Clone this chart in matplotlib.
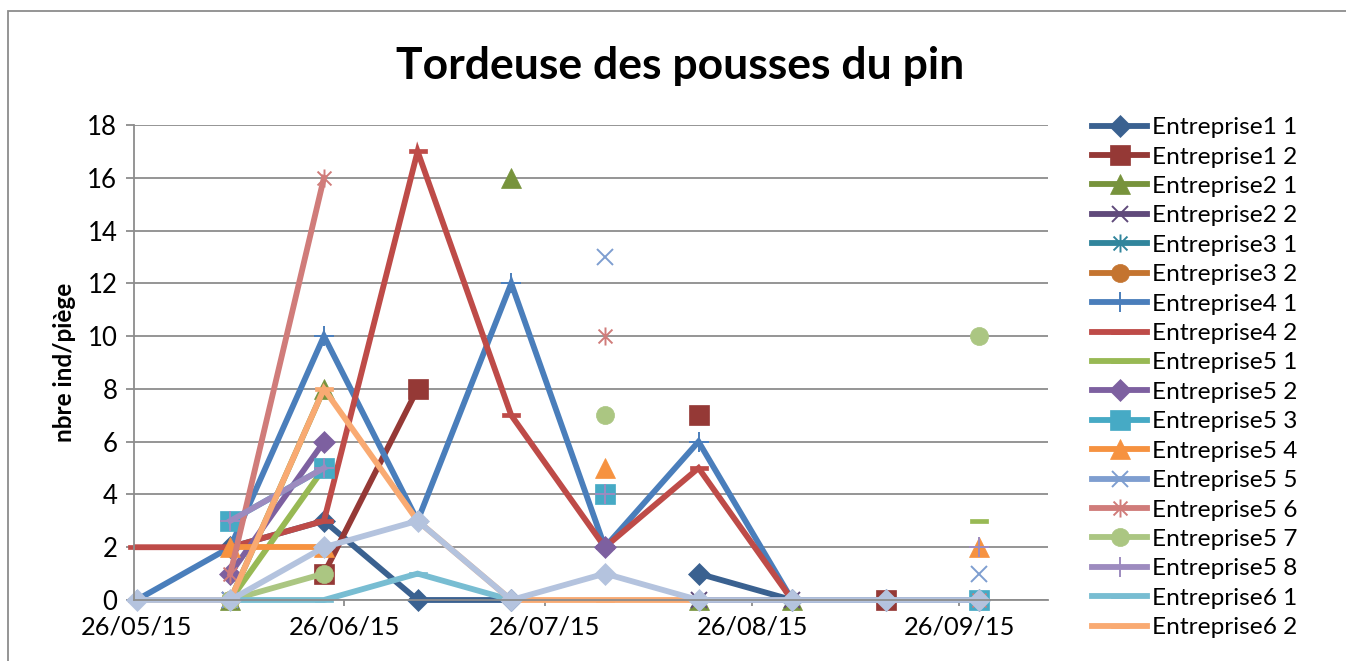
import numpy as np
import matplotlib
matplotlib.use("Agg")
import matplotlib.pyplot as plt
import matplotlib.dates as mdates
from matplotlib.path import Path
from matplotlib.patches import Rectangle
from datetime import datetime, timedelta

plt.rcParams['font.family'] = ['Lato', 'DejaVu Sans']

nan = np.nan

# sampling dates (every two weeks)
dates = ['26/05/2015', '09/06/2015', '23/06/2015', '07/07/2015', '21/07/2015',
         '04/08/2015', '18/08/2015', '01/09/2015', '15/09/2015', '29/09/2015']

e1_1 = [nan, 2, 3, 0, 0, nan, 1, 0, 0, 0]
e1_2 = [nan, nan, 1, 8, nan, nan, 7, nan, 0, nan]
e2_1 = [nan, 0, 8, nan, 16, nan, 0, 0, nan, nan]
e2_2 = [nan, 0, nan, nan, nan, nan, 0, 0, nan, nan]
e3_1 = [nan, 0, nan, nan, nan, nan, nan, nan, nan, 0]
e3_2 = [nan, 0, nan, nan, nan, nan, nan, nan, nan, 0]
e4_1 = [0, 2, 10, 3, 12, 2, 6, 0, nan, nan]
e4_2 = [2, 2, 3, 17, 7, 2, 5, 0, nan, nan]
e5_1 = [nan, 0, 5, nan, nan, nan, nan, nan, nan, 3]
e5_2 = [nan, 1, 6, nan, nan, 2, nan, nan, nan, nan]
e5_3 = [nan, 3, 5, nan, nan, 4, nan, nan, nan, 0]
e5_4 = [nan, 2, 2, nan, nan, 5, nan, nan, nan, 2]
e5_5 = [nan, 0, nan, nan, nan, 13, nan, nan, nan, 1]
e5_6 = [nan, 1, 16, nan, nan, 10, nan, nan, nan, 0]
e5_7 = [nan, 0, 1, nan, nan, 7, nan, nan, nan, 10]
e5_8 = [nan, 3, 5, nan, nan, 4, nan, nan, nan, 2]
e6_1 = [0, 0, 0, 1, 0, nan, nan, nan, nan, nan]
e6_2 = [0, 0, 8, 3, 0, 0, 0, nan, nan, nan]
# extra series drawn on top, its legend entry is cut off in the original
e6_3 = [0, 0, 2, 3, 0, 1, 0, 0, 0, 0]

labels = ['Entreprise1 1', 'Entreprise1 2', 'Entreprise2 1', 'Entreprise2 2',
          'Entreprise3 1', 'Entreprise3 2', 'Entreprise4 1', 'Entreprise4 2',
          'Entreprise5 1', 'Entreprise5 2', 'Entreprise5 3', 'Entreprise5 4',
          'Entreprise5 5', 'Entreprise5 6', 'Entreprise5 7', 'Entreprise5 8',
          'Entreprise6 1', 'Entreprise6 2', '_nolegend_']
series = [e1_1, e1_2, e2_1, e2_2, e3_1, e3_2, e4_1, e4_2, e5_1, e5_2, e5_3,
          e5_4, e5_5, e5_6, e5_7, e5_8, e6_1, e6_2, e6_3]

colors = ['#3A6190', '#953936', '#77933C', '#604A7B', '#31859C', '#C47430',
          '#4A7EBB', '#BE4B48', '#98B954', '#7D60A0', '#46AAC5', '#F69240',
          '#7E9ED0', '#D07C7A', '#ABC682', '#9D8BBF', '#78BDD2', '#F9AA72',
          '#B4C3DE']

star = Path([(-1, -1), (1, 1), (-1, 1), (1, -1), (0, -1.3), (0, 1.3)],
            [Path.MOVETO, Path.LINETO, Path.MOVETO, Path.LINETO,
             Path.MOVETO, Path.LINETO])
dash = Path([(-1, -0.22), (1, -0.22), (1, 0.22), (-1, 0.22), (-1, -0.22)],
            [Path.MOVETO, Path.LINETO, Path.LINETO, Path.LINETO, Path.CLOSEPOLY])

# (marker, size, edge width)
mk = {'D': ('D', 11.5, 0.5), 's': ('s', 14, 0.5), '^': ('^', 14, 0.5),
      'x': ('x', 12, 1.4), '*': (star, 13, 1.4), 'o': ('o', 13, 0.5),
      '+': ('+', 14, 1.4), '-': (dash, 13, 0.5)}
markers = ['D', 's', '^', 'x', '*', 'o', '+', '-', '-',
           'D', 's', '^', 'x', '*', 'o', '+', '-', '-', 'D']

x = [datetime.strptime(d, '%d/%m/%Y') for d in dates]

fig = plt.figure(figsize=(13.46, 6.61), dpi=100)
ax = fig.add_axes([134 / 1346, 1 - 600 / 661, 914 / 1346, 475 / 661])

for vals, lab, c, m in zip(series, labels, colors, markers):
    mstyle, ms, mew = mk[m]
    ax.plot(x, vals, color=c, lw=4.2, marker=mstyle, ms=ms, mew=mew,
            mec=c, mfc=c, label=lab, clip_on=False, solid_joinstyle='miter')

ax.set_ylim(0, 18)
ax.set_yticks(range(0, 19, 2))
ax.set_xlim(datetime(2015, 5, 26) - timedelta(days=0.4), datetime(2015, 10, 9, 6))
ax.xaxis.set_major_locator(mdates.MonthLocator(bymonthday=26))
ax.xaxis.set_major_formatter(mdates.DateFormatter('%d/%m/%y'))

ax.grid(axis='y', color='#8C8C8C', lw=1.3)
ax.set_axisbelow(True)
for s in ['top', 'right']:
    ax.spines[s].set_visible(False)
for s in ['left', 'bottom']:
    ax.spines[s].set_color('#8C8C8C')
    ax.spines[s].set_linewidth(1.3)
ax.tick_params(axis='y', length=6, width=1.3, color='#8C8C8C', labelsize=18.5, pad=6)
ax.tick_params(axis='x', length=4, width=1.3, color='#8C8C8C', labelsize=18.3, pad=7)

ax.set_ylabel('nbre ind/piège', fontsize=17.5, fontweight='bold', labelpad=8)
fig.text(0.505, 0.900, 'Tordeuse des pousses du pin', fontsize=32,
         fontweight='bold', ha='center', va='center')

fig.legend(loc='upper left', bbox_to_anchor=(1092 / 1346, 1 - 117 / 661),
           frameon=False, fontsize=17.6, handlelength=2.25, handletextpad=0.22,
           labelspacing=0.34, borderaxespad=0, borderpad=0)

fig.add_artist(Rectangle((8 / 1346, -0.01), 1.2, 1 - 11 / 661 + 0.01,
                         transform=fig.transFigure, fill=False,
                         edgecolor='#8C8C8C', lw=1.3))

fig.savefig('out.png', dpi=100)
